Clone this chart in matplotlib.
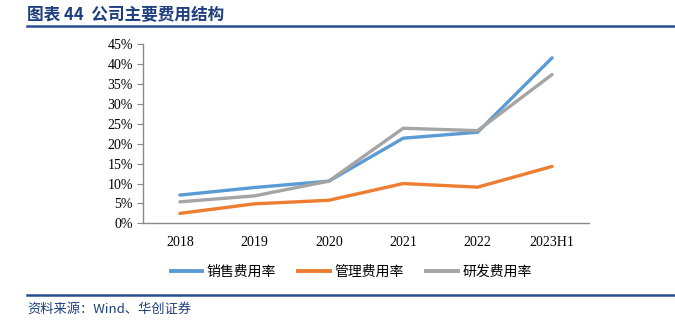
import matplotlib
matplotlib.use('Agg')
import matplotlib.pyplot as plt
from matplotlib.lines import Line2D
from matplotlib.ticker import FuncFormatter

plt.rcParams['font.family'] = ['Noto Sans CJK SC', 'DejaVu Sans']

years = ['2018', '2019', '2020', '2021', '2022', '2023H1']
sales_rate = [7.1, 9.0, 10.6, 21.4, 22.9, 41.6]
admin_rate = [2.5, 4.9, 5.8, 10.0, 9.1, 14.3]
rd_rate = [5.4, 6.9, 10.6, 23.9, 23.3, 37.4]
labels = ['销售费用率', '管理费用率', '研发费用率']
colors = ['#5B9BD5', '#ED7D31', '#A5A5A5']

fig = plt.figure(figsize=(6.75, 3.27), dpi=100)
ax = fig.add_axes([0.2114, 0.317, 0.6616, 0.5475])

x = range(len(years))
for vals, c, lab in zip([sales_rate, admin_rate, rd_rate], colors, labels):
    ax.plot(x, [v / 100 for v in vals], color=c, lw=2.4, label=lab,
            solid_capstyle='round', solid_joinstyle='round')

ax.set_xlim(-0.5, len(years) - 0.5)
ax.set_ylim(0, 0.45)
ax.set_yticks([i * 0.05 for i in range(10)])
ax.yaxis.set_major_formatter(FuncFormatter(lambda v, p: f'{v * 100:.0f}%'))
ax.set_xticks(list(x))
ax.set_xticklabels(years)
for s in ['top', 'right']:
    ax.spines[s].set_visible(False)
for s in ['left', 'bottom']:
    ax.spines[s].set_color('#898989')
    ax.spines[s].set_linewidth(1.0)
ax.tick_params(axis='y', length=4, color='#898989', pad=3)
ax.tick_params(axis='x', length=0, pad=9)
for t in ax.get_xticklabels() + ax.get_yticklabels():
    t.set_fontfamily('Liberation Serif')
    t.set_fontsize(10)

handles = [Line2D([], [], color=c, lw=2.8) for c in colors]
fig.legend(handles, labels, loc='center', bbox_to_anchor=(0.52, 0.168), ncol=3,
           frameon=False, fontsize=10, handlelength=2.3, handletextpad=0.3,
           columnspacing=1.6)

# header and footer
fig.text(0.040, 0.955, '图表 44  公司主要费用结构', fontsize=12, fontweight='bold',
         color='#1F3F7F', va='center', ha='left')
fig.add_artist(Line2D([0.04, 1.0], [0.919, 0.919], color='#2A4F8F', lw=1.8))
fig.add_artist(Line2D([0.04, 1.0], [0.098, 0.098], color='#2A4F8F', lw=1.8))
fig.text(0.040, 0.055, '资料来源：Wind、华创证券', fontsize=9.5, style='italic',
         color='#1F3F7F', va='center', ha='left')

fig.savefig('out.png', dpi=100)
